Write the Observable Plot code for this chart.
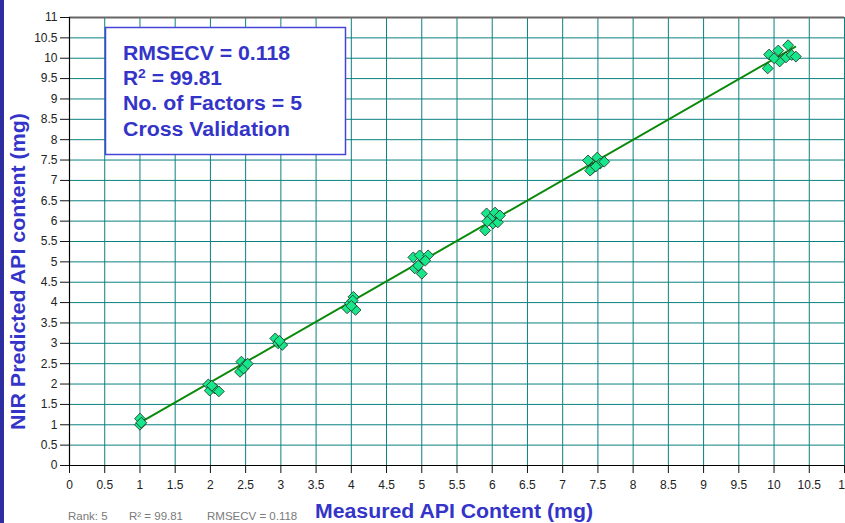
<!DOCTYPE html>
<html><head><meta charset="utf-8">
<script src="https://cdn.jsdelivr.net/npm/d3@7"></script>
<script src="https://cdn.jsdelivr.net/npm/@observablehq/plot@0.6"></script>
<style>
html,body{margin:0;padding:0;background:#fff;}
#chart{position:relative;width:845px;height:523px;overflow:hidden;background:#fff;}
#band{position:absolute;left:0;top:0;width:4px;height:523px;background:#2e2ea0;z-index:2;}
#chart svg{position:absolute;left:0;top:0;}
</style></head><body>
<div id="chart"><div id="band"></div></div>
<script>
// Measured API content (mg) vs NIR predicted (mg)
const measured = [
  1.00, 1.00, 1.02,
  1.97, 1.99, 2.06, 2.12, 2.02,
  2.44, 2.42, 2.50, 2.47, 2.53,
  2.92, 2.96, 3.02, 2.98,
  3.94, 3.98, 4.03, 4.06, 4.02, 4.00,
  4.88, 4.97, 5.09, 4.90, 5.00, 4.95, 5.05,
  5.92, 6.04, 5.90, 6.01, 6.08, 5.97, 6.11, 5.93,
  7.36, 7.42, 7.49, 7.53, 7.59, 7.39, 7.47,
  9.93, 9.91, 10.06, 10.08, 10.20, 10.17, 10.25, 10.31, 10.00
];
const predicted = [
  1.15, 1.00, 1.05,
  1.99, 1.84, 1.89, 1.82, 1.96,
  2.55, 2.30, 2.48, 2.38, 2.50,
  3.12, 3.00, 2.96, 3.06,
  3.86, 3.98, 4.14, 3.82, 4.05, 3.92,
  5.11, 5.16, 5.16, 4.84, 4.71, 4.91, 5.03,
  6.19, 6.21, 5.77, 5.94, 5.97, 6.06, 6.14, 5.99,
  7.49, 7.29, 7.56, 7.41, 7.46, 7.24, 7.34,
  10.09, 9.75, 10.19, 9.92, 10.32, 10.02, 10.08, 10.04, 10.00
];
// regression (fit) line end points
const fitX = [1.0, 10.3];
const fitY = [1.05, 10.28];

const xTicks = [0,0.5,1,1.5,2,2.5,3,3.5,4,4.5,5,5.5,6,6.5,7,7.5,8,8.5,9,9.5,10,10.5,11];
const yTicks = [0,0.5,1,1.5,2,2.5,3,3.5,4,4.5,5,5.5,6,6.5,7,7.5,8,8.5,9,9.5,10,10.5,11];

const xTitle = "Measured API Content (mg)";
const yTitle = "NIR Predicted API content (mg)";
const boxLines = ["RMSECV = 0.118", "R|2| = 99.81", "No. of Factors = 5", "Cross Validation"];
const footer = ["Rank: 5", "R\u00b2 = 99.81", "RMSECV = 0.118"];

const points = measured.map((m, i) => ({m, p: predicted[i]}));
const fit = fitX.map((x, i) => ({x, y: fitY[i]}));

const FONT = "'Liberation Sans', Arial, sans-serif";
const BLUE = "#3434c8";

const plot = Plot.plot({
  width: 845, height: 523,
  marginLeft: 69, marginRight: 1, marginTop: 17, marginBottom: 58,
  x: {domain: [0, 11]},
  y: {domain: [0, 11]},
  style: {fontFamily: FONT, fontSize: "12px", color: "#111", background: "transparent", overflow: "visible"},
  marks: [
    Plot.ruleX(xTicks.slice(1), {stroke: "#0c8080", strokeWidth: 1}),
    Plot.ruleY(yTicks.slice(1, -1), {stroke: "#0c8080", strokeWidth: 1}),
    Plot.ruleY([11], {stroke: "#666", strokeWidth: 2}),
    Plot.axisX({ticks: xTicks, tickFormat: d => String(d), tickSize: 8, tickPadding: 7, label: null, fill: "#222"}),
    Plot.axisY({ticks: yTicks, tickFormat: d => String(d), tickSize: 9, tickPadding: 3, label: null, fill: "#222"}),
    Plot.ruleX([0], {stroke: "#000", strokeWidth: 1.2}),
    Plot.ruleY([0], {stroke: "#000", strokeWidth: 1.2}),
    Plot.line(fit, {x: "x", y: "y", stroke: "#0a890a", strokeWidth: 2}),
    Plot.dot(points, {x: "m", y: "p", symbol: "diamond2", r: 4.9, fill: "#18e68a", fillOpacity: 1, stroke: "#1c2a22", strokeWidth: 0.8})
  ]
});
document.getElementById("chart").appendChild(plot);

const svg = d3.select(plot);
// annotation box
svg.append("rect").attr("x", 105.5).attr("y", 27.5).attr("width", 240).attr("height", 127)
  .attr("fill", "#fff").attr("stroke", "#4646d6").attr("stroke-width", 1.5);
const baselines = [60, 85, 110, 136];
const lens = [167, 99, 179, 167];
boxLines.forEach((s, i) => {
  const t = svg.append("text").attr("x", 123).attr("y", baselines[i]).attr("text-anchor", "start")
    .attr("font-family", FONT).attr("font-weight", "bold").attr("font-size", 19.5)
    .attr("fill", BLUE).attr("textLength", lens[i]).attr("lengthAdjust", "spacingAndGlyphs");
  if (s.includes("|")) {
    const parts = s.split("|");
    t.append("tspan").text(parts[0]);
    t.append("tspan").attr("dy", -7).attr("font-size", 13).text(parts[1]);
    t.append("tspan").attr("dy", 7).text(parts[2]);
  } else t.text(s);
});
// axis titles
svg.append("text").attr("x", 315).attr("y", 518).attr("text-anchor", "start")
  .attr("font-family", FONT).attr("font-weight", "bold").attr("font-size", 19.5)
  .attr("fill", BLUE).attr("textLength", 278).attr("lengthAdjust", "spacingAndGlyphs").text(xTitle);
svg.append("text").attr("transform", "translate(25,430) rotate(-90)").attr("text-anchor", "start")
  .attr("font-family", FONT).attr("font-weight", "bold").attr("font-size", 19.5)
  .attr("fill", BLUE).attr("textLength", 317).attr("lengthAdjust", "spacingAndGlyphs").text(yTitle);
// footer
const fx = [68, 129, 207];
footer.forEach((s, i) => {
  svg.append("text").attr("x", fx[i]).attr("y", 520).attr("text-anchor", "start")
    .attr("font-family", FONT).attr("font-size", 11.5).attr("fill", "#7a7a7a").text(s);
});
</script>
</body></html>
